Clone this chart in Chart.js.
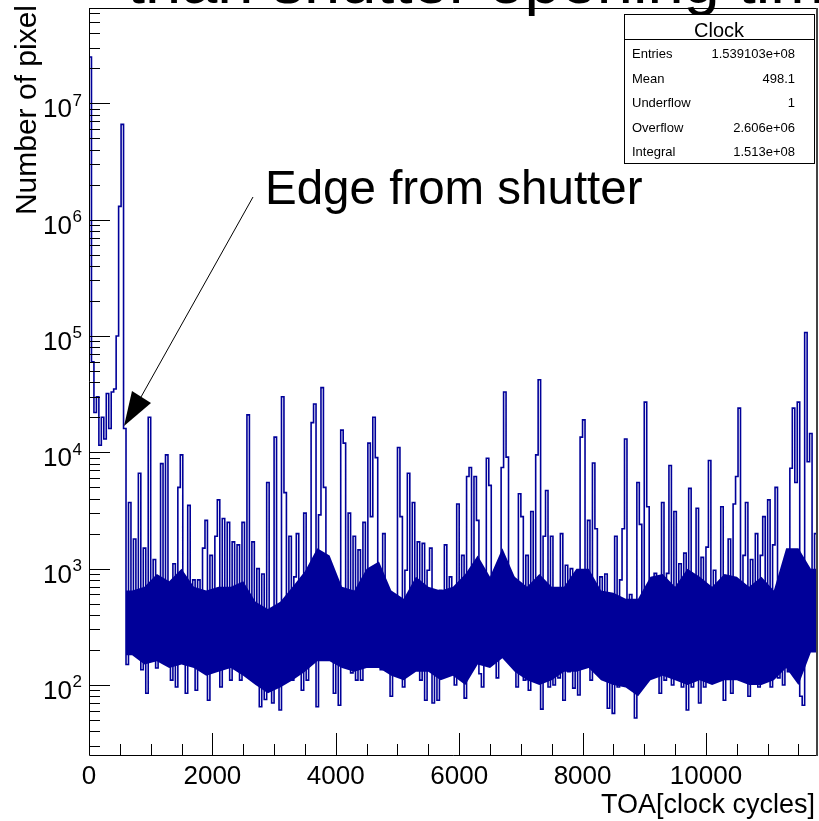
<!DOCTYPE html>
<html lang="en">
  <head>
    <meta charset="UTF-8" />
    <script src="https://cdn.jsdelivr.net/npm/chart.js@4.4.1/dist/chart.umd.min.js"></script>
    <title>Clock</title>
    <style>
      body { margin: 0; background: #fff; }
    </style>
  </head>
  <body>
    <canvas id="myChart" width="819" height="821"></canvas>
    <script>
      // histogram: 40 clock cycles per bin
      const binWidth = 40;
      const xMin = 0;
      const xMax = 11800;
      const yMin = 25;
      const yMax = 6.6e7;
      const counts = [
        25000000, 60000, 22000, 30000, 11500, 20000, 13000, 32000, 16000, 33000,
        35000, 100000, 1300000, 6600000, 16000, 150, 3700, 190, 1800, 200,
        6600, 135, 1500, 85, 20000, 250, 1200, 140, 180, 8000,
        200, 9500, 600, 110, 1100, 96, 5000, 9500, 400, 85,
        3500, 200, 800, 90, 800, 200, 1500, 2600, 74, 1300,
        200, 1900, 3900, 96, 2700, 190, 2500, 110, 1700, 140,
        1600, 110, 2500, 130, 21000, 120, 1700, 110, 1000, 65,
        900, 75, 5500, 100, 70, 13500, 96, 61, 30000, 4500,
        240, 1900, 110, 850, 2000, 190, 90, 3000, 110, 700,
        18000, 26000, 65, 2900, 36000, 5000, 300, 510, 940, 85,
        800, 67, 15500, 12000, 230, 3000, 127, 1900, 110, 1450,
        110, 2500, 260, 12000, 2800, 20000, 9000, 260, 135, 2000,
        135, 415, 80, 300, 470, 11000, 2800, 96, 970, 6600,
        190, 3700, 180, 1700, 110, 1650, 74, 970, 1500, 70,
        440, 74, 650, 125, 1600, 190, 850, 190, 100, 3600,
        140, 1300, 77, 6200, 7400, 190, 6200, 2600, 125, 96,
        440, 8900, 5200, 200, 540, 115, 560, 7400, 33000, 9100,
        190, 850, 140, 96, 4400, 2800, 110, 1300, 90, 3100,
        140, 9500, 42000, 62, 1900, 4700, 96, 1900, 100, 650,
        115, 2000, 74, 1070, 130, 1000, 94, 360, 82, 13500,
        19000, 190, 2600, 110, 8100, 2200, 190, 850, 125, 900,
        63, 420, 57, 1900, 96, 800, 2200, 13000, 170, 600,
        140, 52, 5500, 2400, 110, 27000, 3400, 220, 600, 910,
        200, 85, 3700, 110, 910, 7700, 100, 3100, 115, 1100,
        96, 1360, 61, 4900, 96, 500, 3300, 70, 1250, 96,
        1530, 8500, 190, 970, 110, 600, 3400, 74, 600, 1800,
        85, 3600, 6200, 24000, 190, 1300, 3700, 80, 1200, 170,
        2000, 96, 1300, 2800, 110, 3900, 96, 1600, 5000, 115,
        750, 100, 440, 130, 7300, 24000, 5500, 27000, 80, 67,
        107000, 8300, 14500, 230, 2000
      ];
      // dense part of the histogram (many bins per pixel): lower and upper edge,
      // one pair every 200 clock cycles starting at 600
      const bandStart = 600;
      const bandStep = 200;
      const bandLo = [
        180, 150, 160, 140, 150, 140, 120, 130, 140, 120,
        100, 85, 95, 110, 130, 160, 160, 140, 130, 140,
        140, 120, 110, 130, 130, 110, 120, 100, 150, 140,
        170, 130, 110, 100, 110, 130, 130, 140, 110, 100,
        95, 80, 110, 120, 110, 100, 110, 100, 110, 110,
        100, 100, 110, 140, 100, 190
      ];
      const bandHi = [
        650, 700, 900, 780, 1000, 700, 650, 700, 700, 780,
        520, 450, 520, 700, 950, 1500, 1300, 700, 650, 1000,
        1150, 650, 550, 850, 700, 650, 700, 900, 1300, 850,
        1500, 850, 700, 900, 700, 700, 1000, 1000, 650, 620,
        550, 550, 850, 900, 700, 1000, 850, 700, 900, 850,
        700, 850, 650, 1500, 1500, 1000
      ];
      const xMajorStep = 2000;
      const xMinorStep = 500;
      const yDecades = [2, 3, 4, 5, 6, 7];
      const statsTitle = "Clock";
      const statsLabels = ["Entries", "Mean", "Underflow", "Overflow", "Integral"];
      const statsValues = ["1.539103e+08", "498.1", "1", "2.606e+06", "1.513e+08"];

      const points = counts.map((c, i) => ({ x: xMin + i * binWidth, y: c }));
      points.push({ x: xMin + counts.length * binWidth, y: counts[counts.length - 1] });

      function bandPoints(arr) {
        const pts = arr.map((v, i) => ({ x: bandStart + i * bandStep + bandStep / 2, y: v }));
        pts.unshift({ x: bandStart, y: arr[0] });
        pts.push({ x: bandStart + arr.length * bandStep, y: arr[arr.length - 1] });
        return pts;
      }

      const FONT = '"Liberation Sans", Arial, Helvetica, sans-serif';
      const BLUE = "#000099";

      const rootStyle = {
        id: "rootStyle",
        afterDatasetsDraw(chart) {
          const ctx = chart.ctx;
          const xs = chart.scales.x;
          const ys = chart.scales.y;
          const { left, right, top, bottom } = chart.chartArea;
          ctx.save();

          // frame
          ctx.strokeStyle = "#000";
          ctx.lineWidth = 1;
          ctx.beginPath();
          ctx.moveTo(left + 0.5, top + 0.5);
          ctx.lineTo(right, top + 0.5);
          ctx.moveTo(left + 0.5, top);
          ctx.lineTo(left + 0.5, bottom + 0.5);
          ctx.lineTo(right, bottom + 0.5);
          ctx.stroke();
          ctx.strokeStyle = "#444";
          ctx.lineWidth = 2;
          ctx.beginPath();
          ctx.moveTo(right, top);
          ctx.lineTo(right, bottom + 1);
          ctx.stroke();

          // x ticks (inside)
          ctx.strokeStyle = "#000";
          ctx.lineWidth = 1;
          ctx.beginPath();
          for (let v = xMin; v <= xs.max; v += xMinorStep) {
            const px = Math.round(xs.getPixelForValue(v)) + 0.5;
            const len = v % xMajorStep === 0 ? 22 : 11;
            ctx.moveTo(px, bottom);
            ctx.lineTo(px, bottom - len);
          }
          // y ticks (inside)
          for (let e = 1; e <= 8; e++) {
            for (let m = 1; m <= 9; m++) {
              const v = m * Math.pow(10, e);
              if (v < ys.min || v > ys.max) continue;
              const py = Math.round(ys.getPixelForValue(v)) + 0.5;
              const len = m === 1 ? 21 : 11;
              ctx.moveTo(left, py);
              ctx.lineTo(left + len, py);
            }
          }
          ctx.stroke();

          // x labels
          ctx.fillStyle = "#000";
          ctx.font = "26px " + FONT;
          ctx.textAlign = "center";
          ctx.textBaseline = "alphabetic";
          for (let v = xMin; v <= xs.max; v += xMajorStep) {
            ctx.fillText(String(v), xs.getPixelForValue(v), 784);
          }

          // y labels 10^n
          yDecades.forEach((e) => {
            const py = ys.getPixelForValue(Math.pow(10, e));
            ctx.font = "26px " + FONT;
            ctx.textAlign = "right";
            ctx.fillText("10", 72, py + 14);
            ctx.font = "17px " + FONT;
            ctx.textAlign = "left";
            ctx.fillText(String(e), 72.5, py + 2.5);
          });

          // axis titles
          ctx.font = "27px " + FONT;
          ctx.textAlign = "right";
          ctx.fillText("TOA[clock cycles]", 815, 813);
          ctx.save();
          ctx.font = "30px " + FONT;
          ctx.translate(36, 5);
          ctx.rotate(-Math.PI / 2);
          ctx.fillText("Number of pixel", 0, 0);
          ctx.restore();

          // annotation with arrow
          ctx.font = "47.5px " + FONT;
          ctx.textAlign = "left";
          ctx.fillText("Edge from shutter", 265, 204);
          ctx.beginPath();
          ctx.moveTo(253, 197);
          ctx.lineTo(141, 397);
          ctx.stroke();
          ctx.beginPath();
          ctx.moveTo(124, 426);
          ctx.lineTo(132, 391);
          ctx.lineTo(151, 403);
          ctx.closePath();
          ctx.fill();

          // top title, mostly outside the picture
          ctx.font = "65px " + FONT;
          ctx.fillText("than shutter opening time", 127, 3);

          // stats box
          const bx = 624, by = 14, bw = 190, bh = 149;
          ctx.fillStyle = "#fff";
          ctx.fillRect(bx, by, bw, bh);
          ctx.strokeStyle = "#000";
          ctx.lineWidth = 1;
          ctx.strokeRect(bx + 0.5, by + 0.5, bw, bh);
          ctx.beginPath();
          ctx.moveTo(bx, 39.5);
          ctx.lineTo(bx + bw, 39.5);
          ctx.stroke();
          ctx.fillStyle = "#000";
          ctx.font = "20px " + FONT;
          ctx.textAlign = "center";
          ctx.fillText(statsTitle, bx + bw / 2, 37);
          ctx.font = "13px " + FONT;
          statsLabels.forEach((lab, i) => {
            const yy = 58 + i * 24.5;
            ctx.textAlign = "left";
            ctx.fillText(lab, 632, yy);
            ctx.textAlign = "right";
            ctx.fillText(statsValues[i], 795, yy);
          });

          ctx.restore();
        },
      };

      const ctx = document.getElementById("myChart").getContext("2d");
      const myChart = new Chart(ctx, {
        type: "line",
        data: {
          datasets: [
            {
              label: "band low",
              data: bandPoints(bandLo),
              borderWidth: 0,
              borderColor: BLUE,
              pointRadius: 0,
              fill: false,
            },
            {
              label: "band high",
              data: bandPoints(bandHi),
              borderWidth: 0,
              borderColor: BLUE,
              backgroundColor: BLUE,
              pointRadius: 0,
              fill: "-1",
            },
            {
              label: "Clock",
              data: points,
              stepped: "before",
              borderColor: BLUE,
              borderWidth: 1.6,
              pointRadius: 0,
              fill: false,
            },
          ],
        },
        plugins: [rootStyle],
        options: {
          responsive: false,
          animation: false,
          layout: { padding: { left: 89, right: 2, top: 8, bottom: 66 } },
          scales: {
            x: { type: "linear", min: xMin, max: xMax, display: false },
            y: { type: "logarithmic", min: yMin, max: yMax, display: false },
          },
          plugins: {
            legend: { display: false },
            tooltip: { enabled: false },
          },
        },
      });
    </script>
  </body>
</html>
